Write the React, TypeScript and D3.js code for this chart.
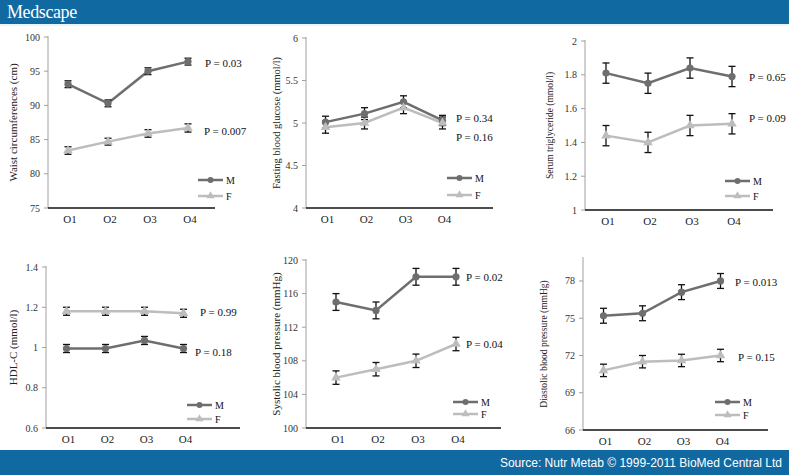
import React from 'react'
import * as d3 from 'd3'

const W = 789
const H = 475

// shared categories / series
const categories = ['O1', 'O2', 'O3', 'O4']
const seriesNames = ['M', 'F']

// waist circumference (cm)
const waistM = [93.1, 90.3, 95.0, 96.4]
const waistMErr = [0.5, 0.5, 0.5, 0.5]
const waistF = [83.4, 84.7, 85.9, 86.7]
const waistFErr = [0.55, 0.5, 0.55, 0.6]
const waistTicks = [75, 80, 85, 90, 95, 100]
const waistP = ['P = 0.03', 'P = 0.007']

// fasting blood glucose (mmol/l)
const glucoseM = [5.01, 5.11, 5.25, 5.03]
const glucoseMErr = [0.07, 0.07, 0.07, 0.06]
const glucoseF = [4.95, 5.0, 5.18, 5.0]
const glucoseFErr = [0.07, 0.07, 0.07, 0.07]
const glucoseTicks = [4, 4.5, 5, 5.5, 6]
const glucoseP = ['P = 0.34', 'P = 0.16']

// serum triglyceride (mmol/l)
const tgM = [1.81, 1.75, 1.84, 1.79]
const tgMErr = [0.06, 0.06, 0.06, 0.06]
const tgF = [1.44, 1.40, 1.50, 1.51]
const tgFErr = [0.06, 0.06, 0.06, 0.06]
const tgTicks = [1, 1.2, 1.4, 1.6, 1.8, 2]
const tgP = ['P = 0.65', 'P = 0.09']

// HDL-C (mmol/l)
const hdlM = [0.995, 0.995, 1.035, 0.995]
const hdlMErr = [0.02, 0.02, 0.02, 0.02]
const hdlF = [1.18, 1.18, 1.18, 1.17]
const hdlFErr = [0.02, 0.02, 0.02, 0.02]
const hdlTicks = [0.6, 0.8, 1, 1.2, 1.4]
const hdlP = ['P = 0.99', 'P = 0.18']

// systolic blood pressure (mmHg)
const sbpM = [115, 114, 118, 118]
const sbpMErr = [1, 1, 1, 1]
const sbpF = [106, 107, 108, 110]
const sbpFErr = [0.8, 0.8, 0.8, 0.8]
const sbpTicks = [100, 104, 108, 112, 116, 120]
const sbpP = ['P = 0.02', 'P = 0.04']

// diastolic blood pressure (mmHg)
const dbpM = [75.2, 75.4, 77.1, 78.0]
const dbpMErr = [0.6, 0.6, 0.6, 0.6]
const dbpF = [70.8, 71.5, 71.6, 72.0]
const dbpFErr = [0.5, 0.5, 0.5, 0.5]
const dbpTicks = [66, 69, 72, 75, 78]
const dbpP = ['P = 0.013', 'P = 0.15']

const M_COLOR = '#6e6e6e'
const F_COLOR = '#bdbdbd'
const BLUE = '#1169a2'

type Panel = {
  title: string
  titleSize: number
  titleX: number
  m: number[]; mErr: number[]; f: number[]; fErr: number[]
  ticks: number[]
  top: number // domain max shown at yTop
  pLabels: string[]
  pPos: number[][]
  x0: number; xEnd: number; yTop: number; yBot: number
  bandStart: number; step: number
  legX: number; legY: number[]
}

const panels: Panel[] = [
  {
    title: 'Waist circumferences (cm)', titleSize: 11, titleX: 13,
    m: waistM, mErr: waistMErr, f: waistF, fErr: waistFErr, ticks: waistTicks, top: 100,
    pLabels: waistP, pPos: [[205, 67], [204, 135]],
    x0: 48, xEnd: 215, yTop: 37, yBot: 208, bandStart: 48, step: 40,
    legX: 198, legY: [180, 196],
  },
  {
    title: 'Fasting blood glucose (mmol/l)', titleSize: 10.5, titleX: 276,
    m: glucoseM, mErr: glucoseMErr, f: glucoseF, fErr: glucoseFErr, ticks: glucoseTicks, top: 6,
    pLabels: glucoseP, pPos: [[456, 122], [456, 141]],
    x0: 306, xEnd: 493, yTop: 38, yBot: 208, bandStart: 306, step: 39,
    legX: 447, legY: [178, 195],
  },
  {
    title: 'Serum triglyceride (mmol/l)', titleSize: 9.5, titleX: 550,
    m: tgM, mErr: tgMErr, f: tgF, fErr: tgFErr, ticks: tgTicks, top: 2,
    pLabels: tgP, pPos: [[749, 81], [749, 122]],
    x0: 585, xEnd: 773, yTop: 41, yBot: 210, bandStart: 585, step: 42,
    legX: 725, legY: [181, 196],
  },
  {
    title: 'HDL-C (mmol/l)', titleSize: 11, titleX: 13,
    m: hdlM, mErr: hdlMErr, f: hdlF, fErr: hdlFErr, ticks: hdlTicks, top: 1.4,
    pLabels: hdlP, pPos: [[200, 316], [195, 356]],
    x0: 46, xEnd: 240, yTop: 267, yBot: 428, bandStart: 47, step: 39,
    legX: 187, legY: [405, 419],
  },
  {
    title: 'Systolic blood pressure (mmHg)', titleSize: 11, titleX: 276,
    m: sbpM, mErr: sbpMErr, f: sbpF, fErr: sbpFErr, ticks: sbpTicks, top: 120,
    pLabels: sbpP, pPos: [[466, 281], [466, 348]],
    x0: 306, xEnd: 501, yTop: 260, yBot: 428, bandStart: 316, step: 40,
    legX: 453, legY: [402, 414],
  },
  {
    title: 'Diastolic blood pressure (mmHg)', titleSize: 9.5, titleX: 544,
    m: dbpM, mErr: dbpMErr, f: dbpF, fErr: dbpFErr, ticks: dbpTicks, top: 79.85,
    pLabels: dbpP, pPos: [[735, 286], [738, 361]],
    x0: 583, xEnd: 768, yTop: 258, yBot: 430, bandStart: 584, step: 39,
    legX: 715, legY: [402, 415],
  },
]

const triangle = d3.symbol().type(d3.symbolTriangle).size(40)

const ChartPanel = ({ p }: { p: Panel }) => {
  const x = d3.scaleBand<string>()
    .domain(categories)
    .range([p.bandStart, p.bandStart + p.step * categories.length])
  const y = d3.scaleLinear().domain([p.ticks[0], p.top]).range([p.yBot, p.yTop])
  const cx = (c: string) => (x(c) ?? 0) + x.bandwidth() / 2
  const line = d3.line<number>().x((d, i) => cx(categories[i])).y(d => y(d))
  const series = [
    { name: seriesNames[0], vals: p.m, err: p.mErr, color: M_COLOR },
    { name: seriesNames[1], vals: p.f, err: p.fErr, color: F_COLOR },
  ]
  const titleY = (p.yTop + p.yBot) / 2

  return (
    <g>
      {/* y axis */}
      <line x1={p.x0} x2={p.x0} y1={p.yTop - 1} y2={p.yBot} stroke="#a0a0a0" strokeWidth={1} />
      {p.ticks.map(t => (
        <g key={t}>
          <line x1={p.x0 - 4} x2={p.x0} y1={y(t)} y2={y(t)} stroke="#a0a0a0" />
          <text x={p.x0 - 8} y={y(t)} dy="0.35em" textAnchor="end" fontSize={10} fill="#333">{t}</text>
        </g>
      ))}
      <text transform={`translate(${p.titleX},${titleY}) rotate(-90)`} textAnchor="middle"
        dy="0.35em" fontSize={p.titleSize} fill="#222">{p.title}</text>
      {/* x axis */}
      <line x1={p.x0} x2={p.xEnd} y1={p.yBot} y2={p.yBot} stroke="#111" strokeWidth={1.5} />
      {categories.map(c => (
        <text key={c} x={cx(c) + 2} y={p.yBot + 15} textAnchor="middle" fontSize={11} fill="#222">{c}</text>
      ))}
      {/* series lines */}
      {series.map(s => (
        <path key={s.name} d={line(s.vals) ?? ''} fill="none" stroke={s.color} strokeWidth={2.5} />
      ))}
      {/* error bars */}
      {series.map(s => s.vals.map((v, i) => {
        const px = cx(categories[i])
        return (
          <g key={s.name + i} stroke="#111" strokeWidth={1.3}>
            <line x1={px} x2={px} y1={y(v - s.err[i])} y2={y(v + s.err[i])} />
            <line x1={px - 3.5} x2={px + 3.5} y1={y(v - s.err[i])} y2={y(v - s.err[i])} />
            <line x1={px - 3.5} x2={px + 3.5} y1={y(v + s.err[i])} y2={y(v + s.err[i])} />
          </g>
        )
      }))}
      {/* markers */}
      {p.m.map((v, i) => (
        <circle key={'m' + i} cx={cx(categories[i])} cy={y(v)} r={3.6} fill={M_COLOR} />
      ))}
      {p.f.map((v, i) => (
        <path key={'f' + i} d={triangle() ?? ''} transform={`translate(${cx(categories[i])},${y(v)})`} fill={F_COLOR} />
      ))}
      {/* p values */}
      {p.pLabels.map((t, i) => (
        <text key={t + i} x={p.pPos[i][0]} y={p.pPos[i][1]} fontSize={11} fill="#111">{t}</text>
      ))}
      {/* legend */}
      {series.map((s, i) => (
        <g key={'leg' + s.name}>
          <line x1={p.legX} x2={p.legX + 25} y1={p.legY[i]} y2={p.legY[i]} stroke={s.color} strokeWidth={2.5} />
          {i === 0
            ? <circle cx={p.legX + 12.5} cy={p.legY[i]} r={3} fill={s.color} />
            : <path d={d3.symbol().type(d3.symbolTriangle).size(28)() ?? ''} transform={`translate(${p.legX + 12.5},${p.legY[i]})`} fill={s.color} />}
          <text x={p.legX + 28} y={p.legY[i]} dy="0.35em" fontSize={10} fill="#111">{s.name}</text>
        </g>
      ))}
    </g>
  )
}

const App = () => {
  return (
    <svg width={W} height={H} style={{ position: 'absolute', left: 0, top: 0, display: 'block' }}
      fontFamily="'Liberation Serif', 'Times New Roman', serif">
      <rect x={0} y={0} width={W} height={H} fill="#fff" />
      <rect x={0} y={0} width={W} height={24} fill={BLUE} />
      <rect x={0} y={24} width={W} height={2} fill="#e4f6fb" />
      <text x={7} y={18} fontSize={18} fill="#fff" letterSpacing={-0.4}>Medscape</text>
      {panels.map((p, i) => <ChartPanel key={i} p={p} />)}
      <rect x={0} y={450} width={W} height={H - 450} fill={BLUE} />
      <text x={782} y={467} textAnchor="end" fontSize={12} fill="#fff"
        fontFamily="'Liberation Sans', Arial, sans-serif">Source: Nutr Metab © 1999-2011 BioMed Central Ltd</text>
    </svg>
  )
}

export default App
